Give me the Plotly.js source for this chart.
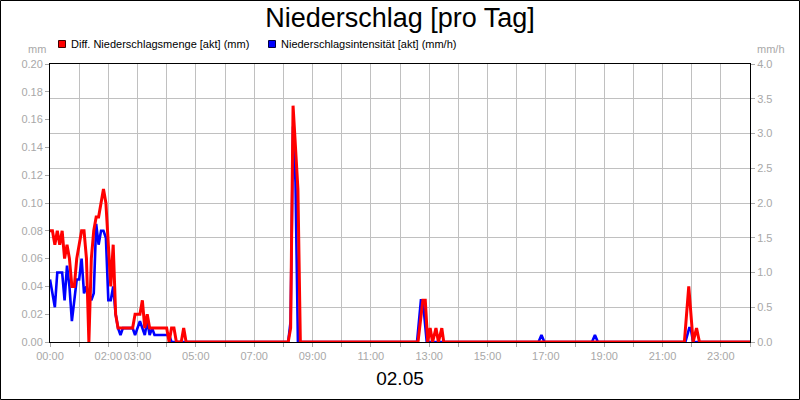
<!DOCTYPE html>
<html>
<head>
<meta charset="utf-8">
<script src="https://cdn.plot.ly/plotly-3.0.1.min.js"></script>
<style>
  body { margin: 0; background: #fff; }
  #chart { width: 800px; height: 400px; }
</style>
</head>
<body>
<div id="chart"></div>
<script>
// Diff. Niederschlagsmenge [akt] (mm)
const mengeTimes = [
  "00:00", "00:05", "00:10", "00:15", "00:20", "00:25", "00:30", "00:35", "00:40", "00:45",
  "00:50", "00:55", "01:00", "01:05", "01:10", "01:15", "01:20", "01:25", "01:30", "01:35",
  "01:40", "01:45", "01:50", "01:55", "02:00", "02:05", "02:10", "02:15", "02:20", "02:50",
  "02:55", "03:00", "03:05", "03:10", "03:15", "03:20", "03:25", "04:00", "04:05", "04:10",
  "04:15", "04:20", "04:30", "04:35", "04:40", "08:10", "08:15", "08:20", "08:25", "08:30",
  "08:35", "12:37", "12:47", "12:52", "12:57", "13:02", "13:07", "13:14", "13:19", "13:26",
  "13:30", "21:45", "21:54", "22:03", "22:10", "22:16", "24:00"
];
const mengeValues = [
  0.08, 0.08, 0.07, 0.08, 0.07, 0.08, 0.06, 0.07, 0.06, 0.04,
  0.04, 0.06, 0.07, 0.08, 0.08, 0.06, 0.00, 0.06, 0.08, 0.09,
  0.09, 0.10, 0.11, 0.10, 0.07, 0.04, 0.07, 0.02, 0.01, 0.01,
  0.02, 0.02, 0.02, 0.03, 0.01, 0.02, 0.01, 0.01, 0.00, 0.01,
  0.01, 0.00, 0.00, 0.01, 0.00, 0.00, 0.01, 0.17, 0.14, 0.11,
  0.00, 0.00, 0.03, 0.03, 0.00, 0.01, 0.00, 0.01, 0.00, 0.01,
  0.00, 0.00, 0.04, 0.00, 0.01, 0.00, 0.00
];

// Niederschlagsintensität [akt] (mm/h)
const intensTimes = [
  "00:00", "00:05", "00:10", "00:15", "00:20", "00:25", "00:30", "00:35", "00:40", "00:45",
  "00:50", "00:55", "01:00", "01:05", "01:10", "01:15", "01:20", "01:25", "01:30", "01:35",
  "01:40", "01:45", "01:50", "01:55", "02:00", "02:05", "02:10", "02:15", "02:20", "02:25",
  "02:30", "02:50", "02:55", "03:00", "03:05", "03:10", "03:15", "03:20", "03:25", "03:30",
  "03:35", "04:00", "04:05", "04:10", "08:10", "08:15", "08:20", "08:25", "08:30", "12:35",
  "12:43", "12:47", "12:55", "16:45", "16:51", "16:57", "18:35", "18:41", "18:47", "21:47",
  "21:55", "21:58", "22:03", "24:00"
];
const intensValues = [
  0.9, 0.7, 0.5, 1.0, 1.0, 1.0, 0.6, 1.1, 0.8, 0.3,
  0.6, 0.9, 0.9, 1.2, 0.7, 0.8, 0.7, 0.6, 0.7, 1.7,
  1.4, 1.6, 1.6, 1.5, 0.6, 0.6, 0.8, 0.4, 0.2, 0.1,
  0.2, 0.2, 0.1, 0.2, 0.3, 0.2, 0.1, 0.3, 0.1, 0.2,
  0.1, 0.1, 0.1, 0.0, 0.0, 0.3, 3.1, 2.3, 0.0, 0.0,
  0.6, 0.6, 0.0, 0.0, 0.1, 0.0, 0.0, 0.1, 0.0, 0.0,
  0.2, 0.2, 0.0, 0.0
];

const hourTicks = [0, 1, 2, 3, 4, 5, 6, 7, 8, 9, 10, 11, 12, 13, 14, 15, 16, 17, 18, 19, 20, 21, 22, 23, 24];
const hourLabels = ["00:00", "", "02:00", "03:00", "", "05:00", "", "07:00", "", "09:00", "", "11:00", "",
  "13:00", "", "15:00", "", "17:00", "", "19:00", "", "21:00", "", "23:00", ""];

const toHours = t => { const [h, m] = t.split(":"); return +h + m / 60; };

const gray = "#a8a8a8";
const font = "Liberation Sans, Arial, sans-serif";

// plot area in pixels: x 50..750, y 64..342
const px = x => (x - 50) / 700;
const py = y => (342 - y) / 278;

const traces = [
  {
    x: mengeTimes.map(toHours), y: mengeValues,
    name: "Diff. Niederschlagsmenge [akt] (mm)",
    type: "scatter", mode: "lines", yaxis: "y2",
    line: { color: "#ff0000", width: 3 },
    showlegend: false
  },
  {
    x: intensTimes.map(toHours), y: intensValues,
    name: "Niederschlagsintensität [akt] (mm/h)",
    type: "scatter", mode: "lines", yaxis: "y",
    line: { color: "#0000ff", width: 2.6 },
    showlegend: false
  }
];

const layout = {
  width: 800, height: 400,
  margin: { l: 50, r: 50, t: 64, b: 58 },
  paper_bgcolor: "#fff", plot_bgcolor: "#fff",
  font: { family: font, size: 11, color: gray },
  title: {
    text: "Niederschlag [pro Tag]",
    font: { family: font, size: 27, color: "#000" },
    x: 0.5, xanchor: "center", y: 1 - 18 / 400, yanchor: "middle"
  },
  xaxis: {
    range: [0, 24], tickvals: hourTicks, ticktext: hourLabels, tickangle: 0,
    showgrid: true, gridcolor: "#c0c0c0", gridwidth: 1,
    showline: true, linecolor: "#000", linewidth: 1, mirror: true,
    ticks: "outside", ticklen: 4, tickcolor: gray,
    tickfont: { family: font, size: 11, color: gray },
    zeroline: false, fixedrange: true,
    title: { text: "02.05", font: { family: font, size: 19, color: "#000" }, standoff: 10 }
  },
  yaxis: {
    side: "right", range: [0, 4], dtick: 0.5, tickformat: ".1f",
    showgrid: true, gridcolor: "#c0c0c0", gridwidth: 1,
    showline: true, linecolor: "#000", linewidth: 1,
    ticks: "outside", ticklen: 4, tickcolor: gray,
    tickfont: { family: font, size: 11, color: gray },
    zeroline: false, fixedrange: true
  },
  yaxis2: {
    side: "left", overlaying: "y", range: [0, 0.2], dtick: 0.02, tickformat: ".2f",
    showgrid: false,
    showline: true, linecolor: "#000", linewidth: 1,
    ticks: "outside", ticklen: 4, tickcolor: gray,
    tickfont: { family: font, size: 11, color: gray },
    zeroline: false, fixedrange: true
  },
  shapes: [
    { type: "rect", xref: "paper", yref: "paper", x0: px(0.5), x1: px(799.5), y0: py(399.5), y1: py(0.5),
      line: { color: "#000", width: 1 }, layer: "above" },
    { type: "rect", xref: "paper", yref: "paper", x0: px(58.5), x1: px(65.5), y0: py(47.5), y1: py(40.5),
      fillcolor: "#ff0000", line: { color: "#400000", width: 1 } },
    { type: "rect", xref: "paper", yref: "paper", x0: px(268.5), x1: px(275.5), y0: py(47.5), y1: py(40.5),
      fillcolor: "#0000ff", line: { color: "#000040", width: 1 } }
  ],
  annotations: [
    { xref: "paper", yref: "paper", x: px(69), y: py(44), xanchor: "left", yanchor: "middle",
      text: traces[0].name, showarrow: false, font: { family: font, size: 11, color: "#000" } },
    { xref: "paper", yref: "paper", x: px(279), y: py(44), xanchor: "left", yanchor: "middle",
      text: traces[1].name, showarrow: false, font: { family: font, size: 11, color: "#000" } },
    { xref: "paper", yref: "paper", x: px(48), y: py(49), xanchor: "right", yanchor: "middle",
      text: "mm", showarrow: false, font: { family: font, size: 11, color: gray } },
    { xref: "paper", yref: "paper", x: px(755), y: py(49), xanchor: "left", yanchor: "middle",
      text: "mm/h", showarrow: false, font: { family: font, size: 11, color: gray } }
  ]
};

Plotly.newPlot("chart", traces, layout, { displayModeBar: false, staticPlot: true });
</script>
</body>
</html>
